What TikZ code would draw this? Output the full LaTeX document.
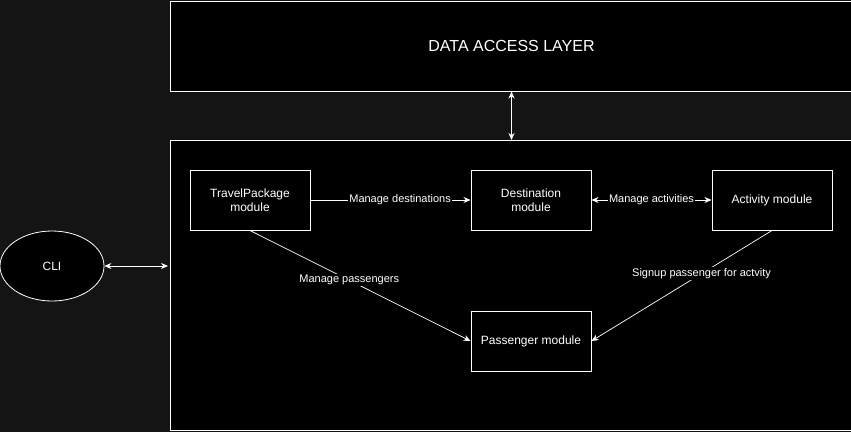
\documentclass[tikz,border=0pt]{standalone}
\usepackage{fontspec}
\setmainfont{Liberation Sans}
\usepackage{xcolor}
\usepackage{tikz}
\usetikzlibrary{positioning,shapes.geometric,arrows.meta}
\definecolor{canvas}{HTML}{141414}
\definecolor{panel}{HTML}{000000}
\definecolor{edge}{HTML}{FFFFFF}

\begin{document}
\begin{tikzpicture}[
        x=1pt, y=-1pt,
        node distance=80pt,
        every node/.style={
            text=white,
            align=center,
            font=\fontsize{12}{14}\selectfont
        },
        module/.style={
            rectangle,
            draw=edge,
            fill=panel,
            line width=1pt,
            minimum width=120pt,
            minimum height=60pt,
            inner sep=0pt
        },
        layer/.style={
            rectangle,
            draw=edge,
            fill=panel,
            line width=1pt,
            inner sep=0pt
        },
        arrow/.style={
            -{Stealth[length=7pt,width=6pt]},
            line width=0.7pt,
            color=edge
        },
        twoway/.style={
            {Stealth[length=7pt,width=6pt]}-{Stealth[length=7pt,width=6pt]},
            line width=0.7pt,
            color=edge
        },
        note/.style={
            fill=panel,
            text=white,
            font=\fontsize{11}{13}\selectfont,
            inner sep=1pt
        }
    ]
        \fill[canvas] (0,0) rectangle (851,432);
        \useasboundingbox (0,0) rectangle (851,432);

        % Layers
        \node[layer, minimum width=682pt, minimum height=90pt, anchor=north west,
              font=\fontsize{16}{18}\selectfont] (dal) at (170,0.5) {DATA ACCESS LAYER};
        \node[layer, minimum width=682pt, minimum height=290pt, anchor=north west] (core) at (170,140) {};

        \node[ellipse, draw=edge, fill=panel, line width=0.8pt,
              minimum width=104pt, minimum height=70pt] (cli) at (52,266) {CLI};

        % Modules
        \node[module] (travel) at (250,200) {TravelPackage\\module};
        \node[module, right=160pt of travel] (dest) {Destination\\module};
        \node[module, right=120pt of dest] (activity) {Activity module};
        \node[module, below=80pt of dest] (passenger) {Passenger module};

        \draw[twoway] (dal.south) -- (core.north);
        \draw[twoway] (cli.east) -- ([xshift=-2pt]cli.east -| core.west);

        \draw[arrow] (travel) -- node[note, pos=0.56] {Manage destinations} (dest);
        \draw[twoway] (dest) -- node[note] {Manage activities} (activity);
        \draw[arrow] (travel.south) -- node[note, pos=0.45] {Manage passengers} (passenger.west);
        \draw[arrow] (activity.south) -- node[note, pos=0.39] {Signup passenger for actvity} (passenger.east);
    \end{tikzpicture}
\end{document}
